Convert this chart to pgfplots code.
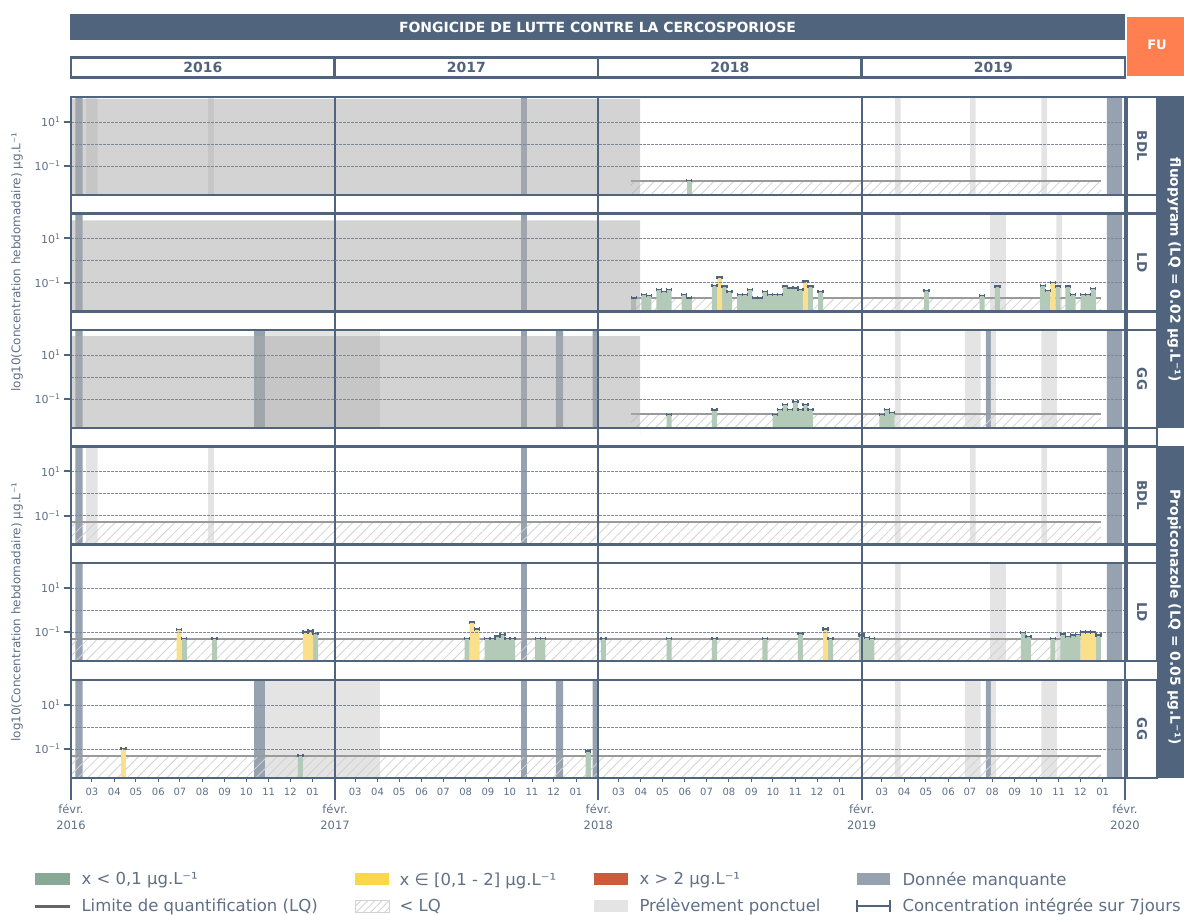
\documentclass[border=0pt]{standalone}
\usepackage{fontspec}
\setmainfont{DejaVu Sans}
\usepackage{pgfplots}
\pgfplotsset{compat=1.18}
\usepackage{pgfplotstable}
\usetikzlibrary{patterns.meta}

\definecolor{slate}{HTML}{50647D}
\definecolor{ticktext}{HTML}{5F6F86}
\definecolor{fu}{HTML}{FF7F50}
\definecolor{barg}{HTML}{B4CAB9}
\definecolor{bary}{HTML}{FAE08A}
\definecolor{legg}{HTML}{87A995}
\definecolor{legy}{HTML}{FBD84B}
\definecolor{legr}{HTML}{CC5B3D}
\definecolor{manq}{HTML}{97A2B0}
\definecolor{ponct}{HTML}{E4E4E4}
\definecolor{lqline}{HTML}{9A9A9A}
\definecolor{hatch}{HTML}{D2D2D2}
\definecolor{gridc}{HTML}{7A88A0}

\def\ylo{0.004808}
\def\yhi{136.8}
\def\yband{0.000693}
\def\yfoot{0.00048}

% x = days since 1 Feb 2016, y = weekly concentration (ug/L)
\pgfplotstableread{
x y
857 0.022
}\fluoBDLg
\pgfplotstableread{
x y
780 0.02
794 0.029
801 0.025
815 0.048
822 0.038
829 0.048
850 0.029
857 0.02
892 0.075
906 0.068
913 0.038
927 0.029
934 0.029
941 0.048
948 0.02
955 0.02
962 0.038
969 0.029
976 0.029
983 0.029
990 0.068
997 0.057
1004 0.057
1011 0.048
1025 0.068
1039 0.038
1186 0.042
1263 0.025
1284 0.068
1347 0.075
1354 0.042
1368 0.068
1382 0.068
1389 0.029
1403 0.029
1410 0.029
1417 0.053
}\fluoLDg
\pgfplotstableread{
x y
899 0.176
1018 0.115
1361 0.1
}\fluoLDy
\pgfplotstableread{
x y
829 0.02
892 0.032
976 0.02
983 0.033
990 0.057
997 0.033
1004 0.075
1011 0.033
1018 0.057
1025 0.033
1124 0.02
1131 0.033
1138 0.024
}\fluoGGg
\pgfplotstableread{
x y
157 0.05
199 0.05
339 0.083
549 0.05
577 0.05
584 0.05
591 0.065
598 0.075
605 0.05
612 0.05
647 0.05
654 0.05
738 0.05
829 0.05
892 0.05
962 0.05
1011 0.088
1053 0.05
1096 0.073
1103 0.058
1110 0.052
1320 0.093
1327 0.062
1361 0.05
1375 0.081
1382 0.062
1389 0.073
1396 0.075
1424 0.073
}\propLDg
\pgfplotstableread{
x y
150 0.13
325 0.1
332 0.11
556 0.28
563 0.138
1046 0.136
1403 0.1
1410 0.1
1417 0.098
}\propLDy
\pgfplotstableread{
x y
318 0.05
717 0.081
}\propGGg
\pgfplotstableread{
x y
73 0.105
}\propGGy

% 7-day cap drawn on top of each weekly bar
\pgfdeclareplotmark{weekcap}{%
  \pgfpathmoveto{\pgfqpoint{-2.5pt}{0pt}}\pgfpathlineto{\pgfqpoint{2.5pt}{0pt}}%
  \pgfpathmoveto{\pgfqpoint{-2.5pt}{-1.6pt}}\pgfpathlineto{\pgfqpoint{-2.5pt}{1.6pt}}%
  \pgfpathmoveto{\pgfqpoint{2.5pt}{-1.6pt}}\pgfpathlineto{\pgfqpoint{2.5pt}{1.6pt}}%
  \pgfusepathqstroke}

% shaded periods (missing data / spot sampling), full panel height
\newcommand\vspanx[3]{\addplot[fill=#1,draw=none] coordinates {(#2,\ylo) (#2,\yhi) (#3,\yhi) (#3,\ylo)} \closedcycle;}
\newcommand\spansA{%
  \vspanx{manq}{6}{16}\vspanx{ponct}{21}{37}\vspanx{ponct}{190}{198}
  \vspanx{manq}{624}{632}\vspanx{ponct}{1142}{1150}\vspanx{ponct}{1246}{1254}
  \vspanx{ponct}{1345}{1353}\vspanx{manq}{1436}{1457}}
\newcommand\spansB{%
  \vspanx{manq}{6}{16}\vspanx{manq}{624}{632}\vspanx{ponct}{1142}{1150}
  \vspanx{ponct}{1274}{1296}\vspanx{ponct}{1366}{1374}\vspanx{manq}{1436}{1457}}
\newcommand\spansC{%
  \vspanx{manq}{6}{16}\vspanx{manq}{254}{269}\vspanx{ponct}{269}{428}
  \vspanx{manq}{624}{632}\vspanx{manq}{672}{682}\vspanx{manq}{723}{730}
  \vspanx{ponct}{1142}{1150}\vspanx{ponct}{1239}{1261}\vspanx{manq}{1268}{1275}
  \vspanx{ponct}{1275}{1282}\vspanx{ponct}{1345}{1367}\vspanx{manq}{1436}{1457}}
% hatched zone under the LQ and the LQ line: from, to, LQ
\newcommand\lqzone[3]{%
  \addplot[draw=none, pattern={Lines[angle=45,distance=7pt,line width=0.8pt]}, pattern color=hatch]
    coordinates {(#1,\ylo) (#1,#3) (#2,#3) (#2,\ylo)} \closedcycle;
  \addplot[lqline, line width=1.8pt] coordinates {(#1,#3) (#2,#3)};}
\newcommand\bars[2]{\addplot[ybar, bar width=7, bar shift=0pt, fill=#2, draw=none] table {#1};}
\newcommand\caps[1]{\addplot[only marks, mark=weekcap, mark options={draw=slate, line width=1.4pt}] table {#1};}
% translucent grey: substance not yet analysed
\newcommand\nodata[2]{\addplot[fill=black!33, fill opacity=0.52, draw=none]
    coordinates {(0,#1) (0,#2) (789,#2) (789,#1)} \closedcycle;}
\newcommand\seps[1]{%
  \addplot[slate, line width=2.2pt] coordinates {(0,#1) (0,\ylo)};
  \addplot[slate, line width=2.2pt] coordinates {(1461,#1) (1461,\ylo)};
  \addplot[slate, line width=2.2pt] coordinates {(366,#1) (366,\yhi)};
  \addplot[slate, line width=2.2pt] coordinates {(731,#1) (731,\yhi)};
  \addplot[slate, line width=2.2pt] coordinates {(1096,#1) (1096,\yhi)};
  \addplot[gridc, line width=0.7pt, dash pattern=on 2.5pt off 1.5pt] coordinates {(0,1) (1461,1)};}

\pgfplotsset{
  every axis/.append style={
    scale only axis, width=1054pt, height=98pt, anchor=north west,
    xmin=0, xmax=1461, ymode=log, ymin=0.004808, ymax=136.8,
    log origin y=infty, clip=false, axis on top,
    axis line style={slate, line width=2.2pt},
    tick pos=left, tick align=outside,
    major tick length=7pt, minor tick length=4pt,
    ytick={0.1,10}, yticklabels={10\textsuperscript{−1},10\textsuperscript{1}},
    yminorticks=false, ymajorgrids,
    grid style={gridc, line width=0.7pt, dash pattern=on 2.5pt off 1.5pt},
    major y tick style={slate, line width=2pt},
    minor x tick style={slate, line width=0.9pt},
    xtick=\empty,
    minor xtick={29,60,90,121,151,182,213,243,274,304,335,394,425,455,486,516,547,578,608,639,669,700,759,790,820,851,881,912,943,973,1004,1034,1065,1124,1155,1185,1216,1246,1277,1308,1338,1369,1399,1430},
    yticklabel style={font=\fontsize{11}{11}\selectfont, text=ticktext},
    xticklabel style={font=\fontsize{10}{10}\selectfont, text=ticktext},
  },
}

\begin{document}
\begin{tikzpicture}[x=1pt,y=1pt]
\useasboundingbox (0,0) rectangle (1184,-915);

% header
\fill[slate] (70,-14) rectangle (1125,-40.5);
\node[text=white, font=\fontsize{14}{16}\selectfont\bfseries] at (597.5,-27.5) {FONGICIDE DE LUTTE CONTRE LA CERCOSPORIOSE};
\fill[fu] (1127,-17) rectangle (1190,-76);
\node[text=white, font=\fontsize{13}{15}\selectfont\bfseries] at (1157,-45) {FU};
\foreach \a/\b/\yr in {71/334.5/2016, 334.5/598/2017, 598/861.5/2018, 861.5/1125/2019}{
  \draw[slate, line width=2.2pt, fill=white] (\a,-57.5) rectangle (\b,-77.5);
  \node[text=slate, font=\fontsize{14}{16}\selectfont\bfseries] at ({(\a+\b)/2},-67.5) {\yr};
}

% fluopyram BDL
\begin{axis}[at={(71pt,-97pt)}]
\spansA
\lqzone{776}{1428}{0.02}
\bars{\fluoBDLg}{barg}
\caps{\fluoBDLg}
\nodata{0.00316}{111}
\seps{\yband}
\end{axis}
% fluopyram LD
\begin{axis}[at={(71pt,-213.5pt)}]
\spansB
\lqzone{776}{1428}{0.02}
\bars{\fluoLDg}{barg}
\bars{\fluoLDy}{bary}
\caps{\fluoLDg}
\caps{\fluoLDy}
\nodata{0.00188}{65.8}
\seps{\yband}
\end{axis}
% fluopyram GG
\begin{axis}[at={(71pt,-330pt)}]
\spansC
\lqzone{776}{1428}{0.02}
\bars{\fluoGGg}{barg}
\caps{\fluoGGg}
\nodata{0.00208}{73}
\seps{\yband}
\end{axis}
% propiconazole BDL
\begin{axis}[at={(71pt,-446.5pt)}]
\spansA
\lqzone{1.4}{1428}{0.05}
\seps{\yband}
\end{axis}
% propiconazole LD
\begin{axis}[at={(71pt,-563pt)}]
\spansB
\lqzone{1.4}{1428}{0.05}
\bars{\propLDg}{barg}
\bars{\propLDy}{bary}
\caps{\propLDg}
\caps{\propLDy}
\seps{\yband}
\end{axis}
% propiconazole GG
\begin{axis}[at={(71pt,-680pt)},
  xtick={29,60,90,121,151,182,213,243,274,304,335,394,425,455,486,516,547,578,608,639,669,700,759,790,820,851,881,912,943,973,1004,1034,1065,1124,1155,1185,1216,1246,1277,1308,1338,1369,1399,1430},
  major x tick style={draw=none},
  xticklabels={03,04,05,06,07,08,09,10,11,12,01,03,04,05,06,07,08,09,10,11,12,01,03,04,05,06,07,08,09,10,11,12,01,03,04,05,06,07,08,09,10,11,12,01},
  extra x ticks={0,366,731,1096,1461},
  extra x tick labels={{févr.\\2016},{févr.\\2017},{févr.\\2018},{févr.\\2019},{févr.\\2020}},
  extra x tick style={xticklabel style={align=center, yshift=-16pt, font=\fontsize{11.5}{16}\selectfont}}]
\spansC
\lqzone{1.4}{1428}{0.05}
\bars{\propGGg}{barg}
\bars{\propGGy}{bary}
\caps{\propGGg}
\caps{\propGGy}
\seps{\yfoot}
\end{axis}

% row labels on the right
\foreach \t/\lab in {97/BDL, 213.5/LD, 330/GG, 446.5/BDL, 563/LD, 680/GG}{
  \draw[slate, line width=2.2pt, fill=white] (1127,-\t) rectangle (1157,-\t-98);
  \node[rotate=-90, text=slate, font=\fontsize{13.5}{15}\selectfont\bfseries] at (1142,-\t-49) {\lab};
}
\foreach \t/\b in {195/213.5, 311.5/330, 428/446.5, 544.5/563}{
  \draw[slate, line width=2.2pt, fill=white] (1127,-\t) rectangle (1157,-\b);
}
\fill[slate] (1157,-96) rectangle (1190,-428);
\fill[slate] (1157,-445.5) rectangle (1190,-778);
\node[rotate=-90, text=white, font=\fontsize{13.8}{15}\selectfont\bfseries] at (1174,-270) {fluopyram (LQ = 0.02 µg.L⁻¹)};
\node[rotate=-90, text=white, font=\fontsize{13.8}{15}\selectfont\bfseries] at (1174,-617) {Propiconazole (LQ = 0.05 µg.L⁻¹)};

% y labels
\node[rotate=90, text=ticktext, font=\fontsize{12}{13}\selectfont] at (17,-262) {log10(Concentration hebdomadaire) µg.L⁻¹};
\node[rotate=90, text=ticktext, font=\fontsize{12}{13}\selectfont] at (17,-612) {log10(Concentration hebdomadaire) µg.L⁻¹};

% legend
\begin{scope}[every node/.style={anchor=west, text=ticktext, font=\fontsize{16.5}{18}\selectfont}]
\fill[legg] (35,-873) rectangle (70,-885);
\node at (78,-880.5) {x < 0,1 µg.L⁻¹};
\fill[legy] (355,-873) rectangle (389,-885);
\node at (396,-880.5) {x ∈ [0,1 - 2] µg.L⁻¹};
\fill[legr] (594,-873) rectangle (628,-885);
\node at (636,-880.5) {x > 2 µg.L⁻¹};
\fill[manq] (857,-873) rectangle (890,-885);
\node at (899,-880.5) {Donnée manquante};
\draw[black!60, line width=3pt] (35,-906) -- (70,-906);
\node at (78,-906.5) {Limite de quantification (LQ)};
\draw[hatch, pattern={Lines[angle=45,distance=5pt,line width=0.8pt]}, pattern color=hatch] (355,-900) rectangle (389,-912);
\node at (396,-906.5) {< LQ};
\fill[ponct] (594,-900) rectangle (628,-912);
\node at (636,-906.5) {Prélèvement ponctuel};
\draw[slate, line width=2pt] (857,-906) -- (890,-906);
\draw[slate, line width=1.5pt] (857,-900) -- (857,-912) (890,-900) -- (890,-912);
\node at (899,-906.5) {Concentration intégrée sur 7jours};
\end{scope}
\end{tikzpicture}
\end{document}
